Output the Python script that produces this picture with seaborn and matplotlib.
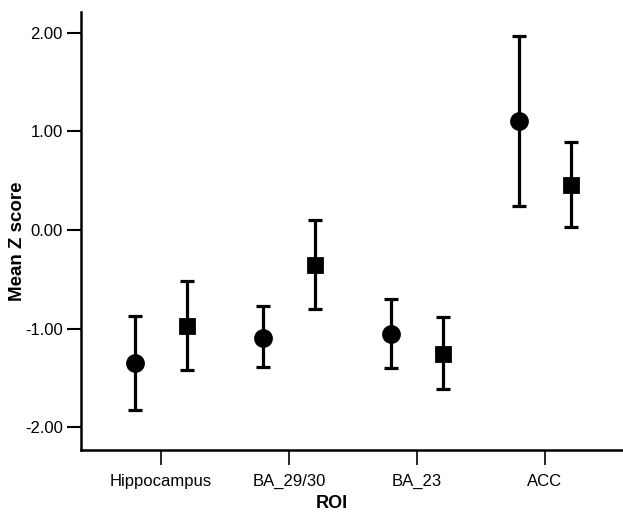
"""Mean Z score per ROI for two groups, with error bars."""

import numpy as np
import pandas as pd
import matplotlib
matplotlib.use('Agg')
import matplotlib.pyplot as plt
import seaborn as sns

# values
rois = ["Hippocampus", "BA_29/30", "BA_23", "ACC"]
groups = ["circle", "square"]
circle_mean = [-1.35, -1.09, -1.05, 1.10]
circle_low = [-1.82, -1.39, -1.40, 0.24]
circle_high = [-0.87, -0.77, -0.70, 1.97]
square_mean = [-0.97, -0.35, -1.26, 0.46]
square_low = [-1.42, -0.80, -1.61, 0.03]
square_high = [-0.52, 0.10, -0.88, 0.89]
y_ticks = [-2.0, -1.0, 0.0, 1.0, 2.0]

sns.set_theme(style="ticks")
plt.rcParams['font.family'] = ['Liberation Sans', 'DejaVu Sans']
plt.rcParams['text.color'] = 'black'
plt.rcParams['axes.labelcolor'] = 'black'

df = pd.DataFrame({
    "roi": rois * 2,
    "group": [groups[0]] * 4 + [groups[1]] * 4,
    "mean": circle_mean + square_mean,
    "low": circle_low + square_low,
    "high": circle_high + square_high,
})

fig = plt.figure(figsize=(6.23, 5.14), dpi=100)
ax = fig.add_axes([81 / 623, 64 / 514, 542 / 623, 438 / 514])

sns.pointplot(data=df, x="roi", y="mean", hue="group", order=rois, hue_order=groups,
              dodge=0.4, errorbar=None, markers=["o", "s"], linestyle="none",
              palette=["black", "black"], markersize=11, legend=False, ax=ax)

# error bars placed at the x positions seaborn chose for each group
for line, grp in zip(ax.lines[:2], groups):
    sub = df[df["group"] == grp].set_index("roi").loc[rois]
    xs = line.get_xdata()
    yerr = [sub["mean"] - sub["low"], sub["high"] - sub["mean"]]
    ax.errorbar(xs, sub["mean"], yerr=yerr, fmt="none", ecolor="black",
                elinewidth=2.3, capsize=5, capthick=2.3, zorder=1)

for line, ms in zip(ax.lines[:2], [11.5, 9.5]):
    line.set_markersize(ms)
    line.set_zorder(3)

ax.set_xlim(-0.625, 3.61)
ax.set_ylim(-2.23, 2.21)
ax.set_yticks(y_ticks)
ax.set_yticklabels([f"{t:.2f}" for t in y_ticks])

sns.despine(ax=ax)
for side in ["left", "bottom"]:
    ax.spines[side].set_linewidth(1.8)
    ax.spines[side].set_color("black")
ax.tick_params(axis="y", length=10, width=1.5, pad=3, labelsize=12, colors="black")
ax.tick_params(axis="x", length=11, width=1.2, pad=6, labelsize=12, colors="black")

ax.set_xlabel("ROI", fontsize=13, fontweight="bold", color="black")
ax.set_ylabel("Mean Z score", fontsize=13.5, fontweight="bold", color="black")
ax.xaxis.label.set_va("center")
ax.yaxis.label.set_va("center")
ax.xaxis.set_label_coords((332 - 81) / 542, -(503 - 450) / 438)
ax.yaxis.set_label_coords((18 - 81) / 542, (450 - 241) / 438)

fig.savefig("out.png", dpi=100, facecolor="white")
plt.close(fig)
